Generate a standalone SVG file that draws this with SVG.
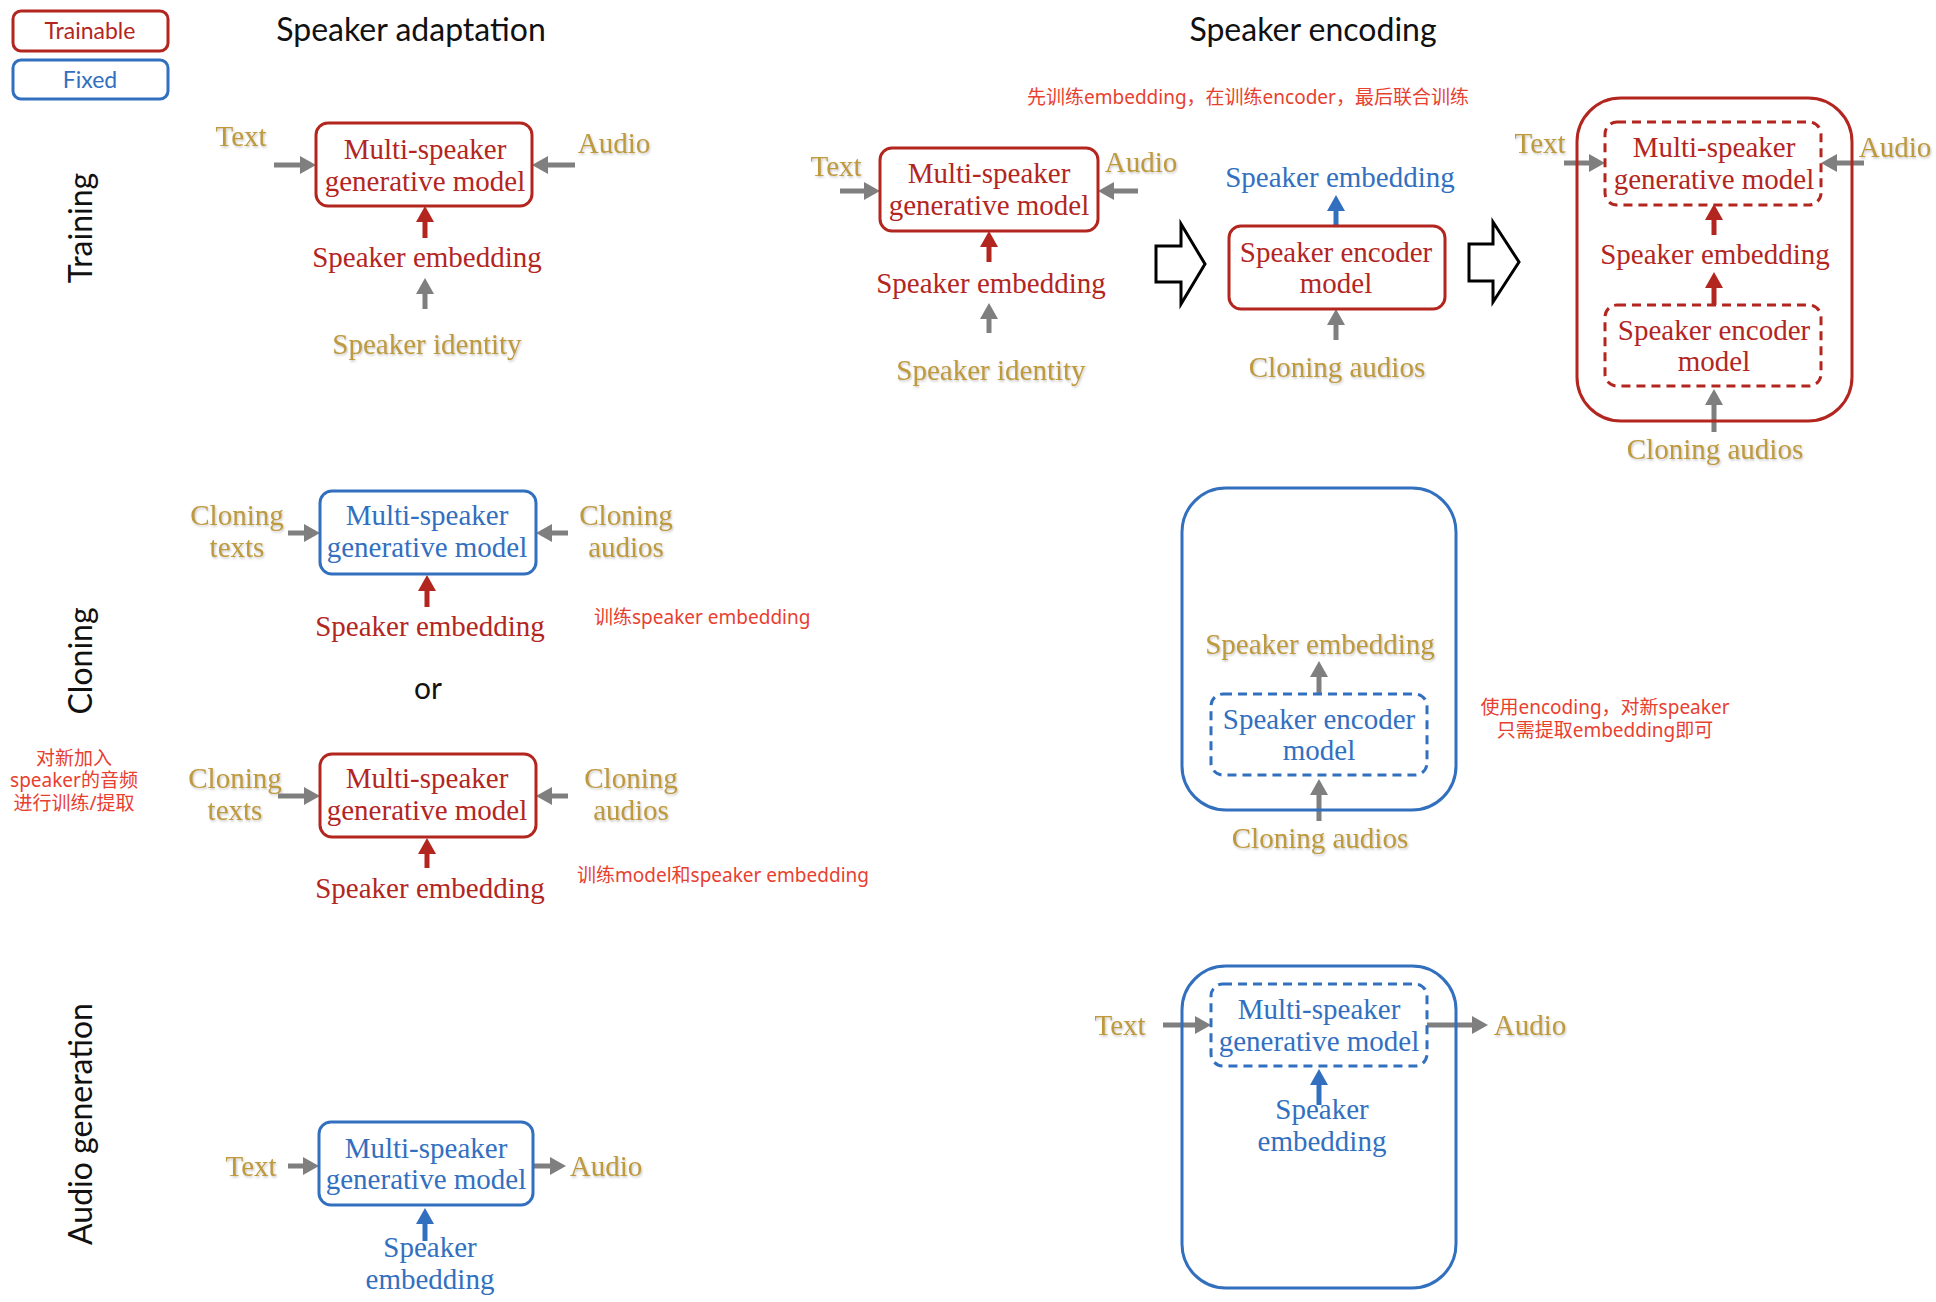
<svg xmlns="http://www.w3.org/2000/svg" width="1936" height="1302" viewBox="0 0 1936 1302">
<defs>
<style>
.bg{fill:#ffffff}
.red{fill:none;stroke:#b3261f;stroke-width:3}
.blue{fill:none;stroke:#3270bf;stroke-width:3}
.dash{stroke-dasharray:9 6}
.s{font-family:"Liberation Serif","DejaVu Serif",serif;font-size:29px;text-anchor:middle}
.tr{fill:#b3261f}
.tb{fill:#3270bf}
.tg{fill:#bf9a3b;filter:url(#sh)}
.h{font-family:Lato,"Open Sans",sans-serif;font-size:32px;fill:#111;text-anchor:middle}
.lg{font-family:Lato,"Open Sans",sans-serif;font-size:23px;text-anchor:middle}
.note{font-family:"Noto Sans","Noto Sans CJK SC",sans-serif;font-size:19px;fill:#e8402f}
.ga{fill:none;stroke:#7f7f7f;stroke-width:5;marker-end:url(#mg)}
.ra{fill:none;stroke:#b3261f;stroke-width:5;marker-end:url(#mr)}
.ba{fill:none;stroke:#3270bf;stroke-width:5;marker-end:url(#mb)}
.blk{fill:#fff;stroke:#000;stroke-width:3;stroke-linejoin:miter}
</style>
<filter id="sh" x="-10%" y="-30%" width="120%" height="160%">
<feDropShadow dx="1" dy="1.5" stdDeviation="1.2" flood-color="#888" flood-opacity="0.5"/>
</filter>
<marker id="mg" markerUnits="userSpaceOnUse" markerWidth="16" markerHeight="18" refX="6" refY="9" orient="auto"><path d="M0,0 L16,9 L0,18 z" fill="#7f7f7f"/></marker>
<marker id="mr" markerUnits="userSpaceOnUse" markerWidth="16" markerHeight="18" refX="6" refY="9" orient="auto"><path d="M0,0 L16,9 L0,18 z" fill="#b3261f"/></marker>
<marker id="mb" markerUnits="userSpaceOnUse" markerWidth="16" markerHeight="18" refX="6" refY="9" orient="auto"><path d="M0,0 L16,9 L0,18 z" fill="#3270bf"/></marker>
</defs>
<rect class="bg" x="0" y="0" width="1936" height="1302"/>

<!-- Legend -->
<g id="legend-trainable"><rect class="red" x="13" y="11" width="155" height="40" rx="8"/><text class="lg tr" x="90" y="39">Trainable</text></g>
<g id="legend-fixed"><rect class="blue" x="13" y="60" width="155" height="39" rx="8"/><text class="lg tb" x="90" y="88">Fixed</text></g>

<!-- Headers and row labels -->
<g id="headers">
<text class="h" x="411" y="41">Speaker adaptation</text>
<text class="h" x="1313" y="41">Speaker encoding</text>
<text class="h" transform="translate(92,228) rotate(-90)">Training</text>
<text class="h" transform="translate(92,661) rotate(-90)">Cloning</text>
<text class="h" transform="translate(92,1124) rotate(-90)">Audio generation</text>
</g>

<!-- Connectors -->
<g id="connectors">
<path class="ga" d="M274,165 H306"/>
<path class="ga" d="M575,165 H542"/>
<path class="ga" d="M425,309 V288"/>
<path class="ra" d="M425,238 V216"/>
<path class="ga" d="M840,191 H870"/>
<path class="ga" d="M1138,191 H1108"/>
<path class="ra" d="M989,262 V241"/>
<path class="ga" d="M989,333 V313"/>
<path class="ba" d="M1336,226 V205"/>
<path class="ga" d="M1336,340 V319"/>
<path class="ga" d="M1564,163 H1595"/>
<path class="ga" d="M1864,163 H1831"/>
<path class="ra" d="M1714,235 V214"/>
<path class="ra" d="M1714,305 V282"/>
<path class="ga" d="M1714,432 V399"/>
<path class="ga" d="M288,533 H310"/>
<path class="ga" d="M568,533 H546"/>
<path class="ra" d="M427,607 V585"/>
<path class="ga" d="M278,796 H310"/>
<path class="ga" d="M568,796 H546"/>
<path class="ra" d="M427,868 V848"/>
<path class="ga" d="M1319,694 V671"/>
<path class="ga" d="M1319,821 V789"/>
<path class="ga" d="M288,1166 H309"/>
<path class="ga" d="M533,1166 H556"/>
<path class="ba" d="M425,1241 V1218"/>
<path class="ga" d="M1163,1025 H1201"/>
<path class="ga" d="M1427,1025 H1478"/>
<path class="ba" d="M1319,1105 V1079"/>
<path class="blk" d="M1156,246 L1181,246 L1181,224 L1205,264 L1181,304 L1181,282 L1156,282 Z"/>
<path class="blk" d="M1469,244 L1493,244 L1493,222 L1519,262 L1493,302 L1493,281 L1469,281 Z"/>
</g>

<!-- Speaker adaptation: Training -->
<g id="adapt-train-model"><rect class="red" x="316" y="123" width="216" height="83" rx="12"/><text class="s tr" x="425" y="159">Multi-speaker</text><text class="s tr" x="425" y="191">generative model</text></g>
<g id="adapt-train-text"><text class="s tg" x="241" y="146">Text</text></g>
<g id="adapt-train-audio"><text class="s tg" x="614" y="153">Audio</text></g>
<g id="adapt-train-emb"><text class="s tr" x="427" y="267">Speaker embedding</text></g>
<g id="adapt-train-id"><text class="s tg" x="427" y="354">Speaker identity</text></g>

<!-- Speaker encoding: Training -->
<g id="enc-note1"><text class="note" x="1027" y="104">先训练embedding，在训练encoder，最后联合训练</text></g>
<g id="enc-train-model"><rect class="red" x="880" y="148" width="218" height="83" rx="12"/><text class="s tr" x="989" y="183">Multi-speaker</text><text class="s tr" x="989" y="215">generative model</text></g>
<g id="enc-train-text"><text class="s tg" x="836" y="176">Text</text></g>
<g id="enc-train-audio"><text class="s tg" x="1141" y="172">Audio</text></g>
<g id="enc-train-emb"><text class="s tr" x="991" y="293">Speaker embedding</text></g>
<g id="enc-train-id"><text class="s tg" x="991" y="380">Speaker identity</text></g>
<g id="enc-train-encoder"><rect class="red" x="1229" y="226" width="216" height="83" rx="12"/><text class="s tr" x="1336" y="262">Speaker encoder</text><text class="s tr" x="1336" y="293">model</text></g>
<g id="enc-train-emb2"><text class="s tb" x="1340" y="187">Speaker embedding</text></g>
<g id="enc-train-clone"><text class="s tg" x="1337" y="377">Cloning audios</text></g>
<g id="enc-joint">
<rect class="red" x="1577" y="98" width="275" height="323" rx="44"/>
<rect class="red dash" x="1605" y="122" width="216" height="83" rx="12"/>
<text class="s tr" x="1714" y="157">Multi-speaker</text><text class="s tr" x="1714" y="189">generative model</text>
<text class="s tr" x="1715" y="264">Speaker embedding</text>
<rect class="red dash" x="1605" y="305" width="216" height="81" rx="12"/>
<text class="s tr" x="1714" y="340">Speaker encoder</text><text class="s tr" x="1714" y="371">model</text>
</g>
<g id="enc-joint-text"><text class="s tg" x="1540" y="153">Text</text></g>
<g id="enc-joint-audio"><text class="s tg" x="1895" y="157">Audio</text></g>
<g id="enc-joint-clone"><text class="s tg" x="1715" y="459">Cloning audios</text></g>

<!-- Speaker adaptation: Cloning -->
<g id="adapt-clone1-model"><rect class="blue" x="320" y="491" width="216" height="83" rx="12"/><text class="s tb" x="427" y="525">Multi-speaker</text><text class="s tb" x="427" y="557">generative model</text></g>
<g id="adapt-clone1-texts"><text class="s tg" x="237" y="525">Cloning</text><text class="s tg" x="237" y="557">texts</text></g>
<g id="adapt-clone1-audios"><text class="s tg" x="626" y="525">Cloning</text><text class="s tg" x="626" y="557">audios</text></g>
<g id="adapt-clone1-emb"><text class="s tr" x="430" y="636">Speaker embedding</text></g>
<g id="note-clone1"><text class="note" x="594" y="624">训练speaker embedding</text></g>
<g id="or"><text class="h" x="428" y="699" style="font-size:30px">or</text></g>
<g id="adapt-clone2-model"><rect class="red" x="320" y="754" width="216" height="83" rx="12"/><text class="s tr" x="427" y="788">Multi-speaker</text><text class="s tr" x="427" y="820">generative model</text></g>
<g id="adapt-clone2-texts"><text class="s tg" x="235" y="788">Cloning</text><text class="s tg" x="235" y="820">texts</text></g>
<g id="adapt-clone2-audios"><text class="s tg" x="631" y="788">Cloning</text><text class="s tg" x="631" y="820">audios</text></g>
<g id="adapt-clone2-emb"><text class="s tr" x="430" y="898">Speaker embedding</text></g>
<g id="note-clone2"><text class="note" x="577" y="882">训练model和speaker embedding</text></g>
<g id="note-left"><text class="note" text-anchor="middle" x="74" y="765">对新加入</text><text class="note" text-anchor="middle" x="74" y="787">speaker的音频</text><text class="note" text-anchor="middle" x="74" y="810">进行训练/提取</text></g>

<!-- Speaker encoding: Cloning -->
<g id="enc-clone">
<rect class="blue" x="1182" y="488" width="274" height="322" rx="44"/>
<text class="s tg" x="1320" y="654">Speaker embedding</text>
<rect class="blue dash" x="1211" y="694" width="216" height="81" rx="12"/>
<text class="s tb" x="1319" y="729">Speaker encoder</text><text class="s tb" x="1319" y="760">model</text>
</g>
<g id="enc-clone-audios"><text class="s tg" x="1320" y="848">Cloning audios</text></g>
<g id="note-enc-clone"><text class="note" text-anchor="middle" x="1605" y="714">使用encoding，对新speaker</text><text class="note" text-anchor="middle" x="1605" y="737">只需提取embedding即可</text></g>

<!-- Audio generation -->
<g id="adapt-gen-model"><rect class="blue" x="319" y="1122" width="214" height="83" rx="12"/><text class="s tb" x="426" y="1158">Multi-speaker</text><text class="s tb" x="426" y="1189">generative model</text></g>
<g id="adapt-gen-text"><text class="s tg" x="251" y="1176">Text</text></g>
<g id="adapt-gen-audio"><text class="s tg" x="606" y="1176">Audio</text></g>
<g id="adapt-gen-emb"><text class="s tb" x="430" y="1257">Speaker</text><text class="s tb" x="430" y="1289">embedding</text></g>
<g id="enc-gen">
<rect class="blue" x="1182" y="966" width="274" height="322" rx="44"/>
<rect class="blue dash" x="1211" y="984" width="216" height="82" rx="12"/>
<text class="s tb" x="1319" y="1019">Multi-speaker</text><text class="s tb" x="1319" y="1051">generative model</text>
<text class="s tb" x="1322" y="1119">Speaker</text><text class="s tb" x="1322" y="1151">embedding</text>
</g>
<g id="enc-gen-text"><text class="s tg" x="1120" y="1035">Text</text></g>
<g id="enc-gen-audio"><text class="s tg" x="1530" y="1035">Audio</text></g>
</svg>
